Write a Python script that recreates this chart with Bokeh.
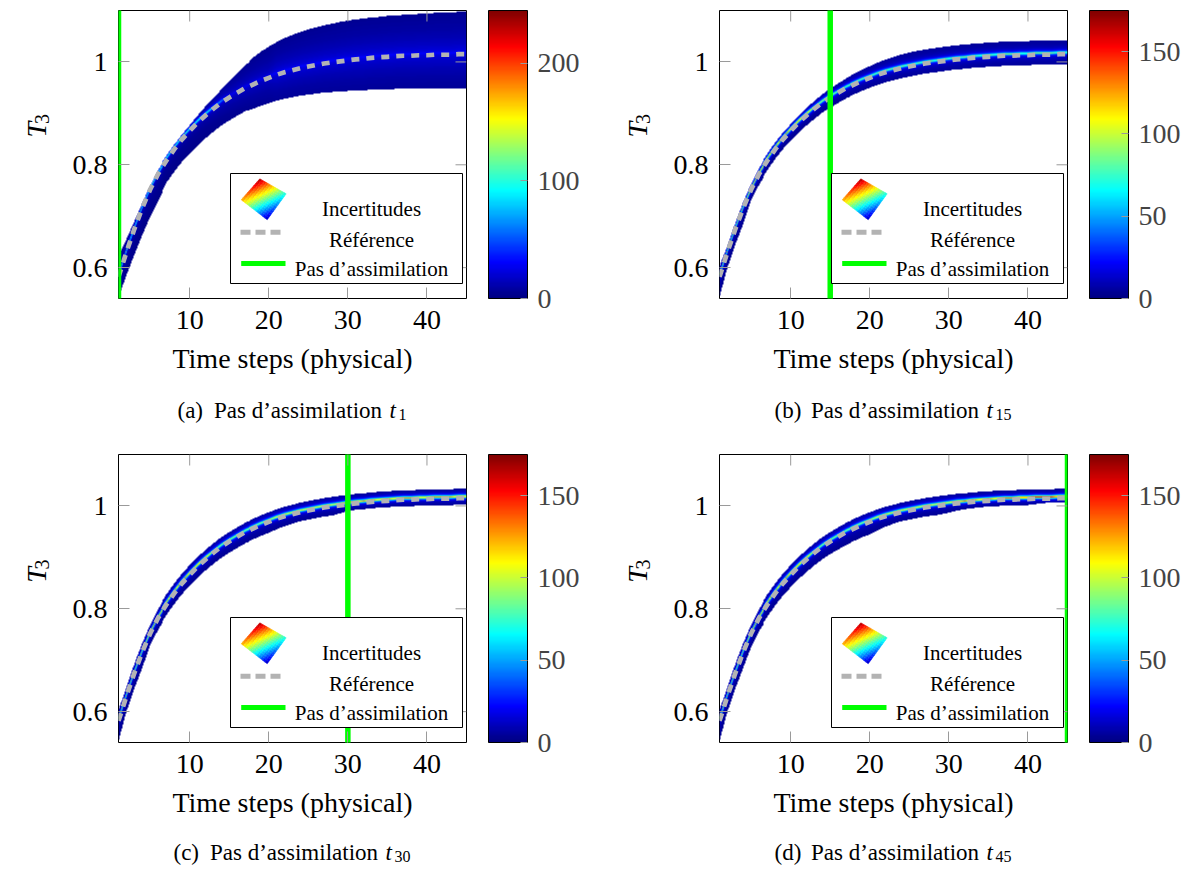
import numpy as np
from bokeh.plotting import figure
from bokeh.models import (Range1d, FixedTicker, ColorBar, LinearColorMapper,
                          Label, CustomJSTickFormatter)
from bokeh.layouts import row, column
from bokeh.core.properties import value
from bokeh.embed import file_html
from bokeh.resources import INLINE

# ---------------- data ----------------
steps = list(range(1, 46))
reference = [0.582, 0.630, 0.675, 0.716, 0.752, 0.782, 0.807, 0.829, 0.849, 0.866,
             0.882, 0.896, 0.909, 0.921, 0.931, 0.940, 0.949, 0.956, 0.963, 0.969,
             0.975, 0.980, 0.984, 0.988, 0.991, 0.994, 0.997, 0.999, 1.001, 1.003,
             1.005, 1.006, 1.008, 1.009, 1.010, 1.011, 1.012, 1.012, 1.013, 1.013,
             1.014, 1.014, 1.014, 1.015, 1.015]

upper_a = [0.622, 0.655, 0.690, 0.726, 0.760, 0.790, 0.815, 0.837, 0.857, 0.876,
           0.895, 0.913, 0.930, 0.946, 0.962, 0.978, 0.993, 1.007, 1.019, 1.029,
           1.038, 1.046, 1.052, 1.058, 1.063, 1.067, 1.071, 1.074, 1.077, 1.080,
           1.082, 1.084, 1.086, 1.087, 1.089, 1.090, 1.091, 1.092, 1.093, 1.093,
           1.095, 1.095, 1.095, 1.097, 1.097]
lower_a = [0.542, 0.585, 0.625, 0.664, 0.700, 0.730, 0.762, 0.784, 0.804, 0.821,
           0.837, 0.851, 0.864, 0.876, 0.886, 0.895, 0.904, 0.908, 0.914, 0.919,
           0.924, 0.928, 0.931, 0.934, 0.936, 0.938, 0.940, 0.941, 0.942, 0.943,
           0.944, 0.944, 0.946, 0.946, 0.946, 0.947, 0.947, 0.947, 0.947, 0.947,
           0.947, 0.947, 0.947, 0.947, 0.947]

upper_b = [0.602, 0.642, 0.687, 0.728, 0.764, 0.794, 0.819, 0.841, 0.861, 0.878,
           0.895, 0.910, 0.924, 0.937, 0.948, 0.958, 0.968, 0.976, 0.984, 0.991,
           0.998, 1.004, 1.009, 1.014, 1.018, 1.021, 1.024, 1.026, 1.028, 1.030,
           1.032, 1.033, 1.035, 1.036, 1.037, 1.038, 1.039, 1.039, 1.040, 1.040,
           1.041, 1.041, 1.041, 1.042, 1.042]
lower_b = [0.542, 0.600, 0.645, 0.686, 0.732, 0.762, 0.787, 0.809, 0.829, 0.846,
           0.862, 0.876, 0.889, 0.901, 0.911, 0.920, 0.929, 0.936, 0.943, 0.949,
           0.955, 0.960, 0.964, 0.968, 0.971, 0.974, 0.977, 0.979, 0.981, 0.983,
           0.985, 0.986, 0.988, 0.989, 0.990, 0.991, 0.992, 0.992, 0.993, 0.993,
           0.994, 0.994, 0.994, 0.995, 0.995]

upper_c = [0.602, 0.648, 0.693, 0.734, 0.770, 0.800, 0.825, 0.847, 0.867, 0.884,
           0.900, 0.914, 0.927, 0.939, 0.949, 0.958, 0.967, 0.974, 0.981, 0.987,
           0.993, 0.998, 1.002, 1.006, 1.009, 1.012, 1.015, 1.017, 1.019, 1.021,
           1.023, 1.024, 1.026, 1.027, 1.028, 1.029, 1.030, 1.030, 1.031, 1.031,
           1.032, 1.032, 1.032, 1.033, 1.033]
lower_c = [0.542, 0.600, 0.645, 0.686, 0.730, 0.760, 0.785, 0.807, 0.827, 0.844,
           0.860, 0.874, 0.887, 0.899, 0.909, 0.918, 0.927, 0.934, 0.941, 0.947,
           0.954, 0.960, 0.965, 0.970, 0.973, 0.976, 0.979, 0.981, 0.985, 0.989,
           0.992, 0.993, 0.995, 0.996, 0.997, 0.998, 0.999, 0.999, 1.000, 1.000,
           1.001, 1.001, 1.001, 1.002, 1.002]

upper_d = [0.602, 0.648, 0.693, 0.734, 0.770, 0.800, 0.825, 0.847, 0.867, 0.884,
           0.900, 0.914, 0.927, 0.939, 0.949, 0.958, 0.967, 0.974, 0.981, 0.987,
           0.993, 0.998, 1.002, 1.006, 1.009, 1.012, 1.015, 1.017, 1.019, 1.021,
           1.023, 1.024, 1.026, 1.027, 1.028, 1.029, 1.030, 1.030, 1.031, 1.031,
           1.032, 1.032, 1.032, 1.033, 1.033]
lower_d = [0.542, 0.600, 0.645, 0.686, 0.727, 0.757, 0.782, 0.804, 0.824, 0.841,
           0.857, 0.871, 0.884, 0.896, 0.906, 0.915, 0.924, 0.931, 0.938, 0.944,
           0.952, 0.959, 0.965, 0.970, 0.973, 0.976, 0.979, 0.981, 0.983, 0.986,
           0.990, 0.993, 0.995, 0.997, 0.998, 0.999, 1.000, 1.000, 1.001, 1.001,
           1.003, 1.005, 1.006, 1.007, 1.007]

# density of ensemble members: sharp core and broad glow (counts)
core_a = [110] * 3 + [100] * 9 + [70, 50] + [8] * 31
glow_a = [15] * 12 + [18] * 8 + [22] * 25
core_b = [100] * 4 + [130] * 8 + [90] * 3 + [75] * 30
glow_b = [16] * 45
core_c = [100] * 4 + [130] * 8 + [85] * 8 + [105] * 9 + [120] * 16
glow_c = [16] * 45
core_d = [100] * 4 + [130] * 8 + [85] * 8 + [105] * 10 + [125] * 8 + [145] * 7
glow_d = [16] * 45

assim_steps = [1, 15, 30, 45]
cbar_max = [245, 175, 175, 175]
cbar_ticks = [[0, 100, 200], [0, 50, 100, 150], [0, 50, 100, 150], [0, 50, 100, 150]]
x_ticks = [10, 20, 30, 40]
y_ticks = [0.6, 0.8, 1.0]
cap_letters = ["(a)", "(b)", "(c)", "(d)"]
cap_subs = ["1", "15", "30", "45"]
legend_labels = ["Incertitudes", "Référence", "Pas d’assimilation"]
x_label = "Time steps (physical)"
y_label = ("T", "3")

uppers = [upper_a, upper_b, upper_c, upper_d]
lowers = [lower_a, lower_b, lower_c, lower_d]
cores = [core_a, core_b, core_c, core_d]
glows = [glow_a, glow_b, glow_c, glow_d]

# ---------------- styling ----------------
FONT = "Liberation Serif"
XMIN, XMAX, YMIN, YMAX = 1, 45, 0.54, 1.10
FW, FH = 348, 288
XS = FW / (XMAX - XMIN)
YS = FH / (YMAX - YMIN)
GREEN = "#00ff00"
GREY = "#b3b3b3"
TICK = "#9a9a9a"
YLAB_W = 60          # width of the y-label strip
MAIN_L = 58          # left border of the main figure (tick labels)
MAIN_B = 85          # bottom border of the main figure


def jet(x):
    x = np.asarray(x, dtype=float)
    r = np.clip(np.minimum(4 * x - 1.5, -4 * x + 4.5), 0, 1)
    g = np.clip(np.minimum(4 * x - 0.5, -4 * x + 3.5), 0, 1)
    b = np.clip(np.minimum(4 * x + 0.5, -4 * x + 2.5), 0, 1)
    return r, g, b


def hexcol(x):
    r, g, b = jet(x)
    return "#%02x%02x%02x" % (int(round(float(r) * 255)), int(round(float(g) * 255)),
                              int(round(float(b) * 255)))


JET = [hexcol(v) for v in np.linspace(0, 1, 256)]


def P(dx, dy):
    """offset in px from the frame's top-left corner -> data coordinates"""
    return XMIN + dx / XS, YMAX - dy / YS


def blank_fig(w, h):
    f = figure(width=w, height=h, x_range=Range1d(0, w), y_range=Range1d(0, h),
               output_backend="svg", toolbar_location=None,
               min_border=0, min_border_left=0, min_border_right=0,
               min_border_top=0, min_border_bottom=0)
    f.axis.visible = False
    f.grid.visible = False
    f.outline_line_color = None
    f.background_fill_color = "white"
    f.border_fill_color = "white"
    return f


def make_main(k, right_border, top_border):
    p = figure(frame_width=FW, frame_height=FH,
               x_range=Range1d(XMIN, XMAX), y_range=Range1d(YMIN, YMAX),
               output_backend="svg", toolbar_location=None,
               min_border_left=MAIN_L, min_border_right=right_border,
               min_border_top=top_border, min_border_bottom=MAIN_B)
    p.grid.visible = False
    p.outline_line_color = "black"
    p.outline_line_width = 1
    p.background_fill_color = "white"
    p.border_fill_color = "white"

    mapper = LinearColorMapper(palette=JET, low=0, high=cbar_max[k],
                               nan_color=(0, 0, 0, 0))

    # density surface, shaded between the time steps (interp shading)
    ny, ncol = 576, 352
    yc = YMIN + (np.arange(ny) + 0.5) * (YMAX - YMIN) / ny
    tx = XMIN + (np.arange(ncol) + 0.5) * (XMAX - XMIN) / ncol
    lo = np.interp(tx, steps, lowers[k])[None, :]
    hi = np.interp(tx, steps, uppers[k])[None, :]
    c = np.interp(tx, steps, reference)[None, :] + 0.003
    co = np.interp(tx, steps, cores[k])[None, :]
    gl = np.interp(tx, steps, glows[k])[None, :]
    Y = yc[:, None]
    d = (co * np.exp(-np.abs(Y - c) / 0.0025)
         + gl * np.exp(-np.abs(Y - c) / (0.28 * (hi - lo))) + 2)
    img = np.where((Y >= lo) & (Y <= hi), d, np.nan)
    p.image(image=[img], x=XMIN, y=YMIN, dw=XMAX - XMIN, dh=YMAX - YMIN,
            color_mapper=mapper)

    # reference
    p.line(steps, reference, line_color=GREY, line_width=4.7, line_dash="8 7",
           line_cap="butt")
    # assimilation step
    a = assim_steps[k]
    p.segment(x0=[a], y0=[YMIN - 1], x1=[a], y1=[YMAX + 1], line_color=GREEN,
              line_width=5.5)

    # mirrored ticks on top and right edges
    p.segment(x0=x_ticks, y0=[YMAX] * len(x_ticks), x1=x_ticks,
              y1=[YMAX - 11 / YS] * len(x_ticks), line_color=TICK, line_width=1)
    p.segment(x0=[XMAX] * len(y_ticks), y0=y_ticks, x1=[XMAX - 11 / XS] * len(y_ticks),
              y1=y_ticks, line_color=TICK, line_width=1)

    # axes
    ax = p.xaxis[0]
    ax.ticker = FixedTicker(ticks=x_ticks)
    ay = p.yaxis[0]
    ay.ticker = FixedTicker(ticks=y_ticks)
    ay.formatter = CustomJSTickFormatter(code="return String(Math.round(tick*10)/10);")
    for axis in (ax, ay):
        axis.axis_line_color = None
        axis.major_tick_in = 11
        axis.major_tick_out = 0
        axis.major_tick_line_color = TICK
        axis.minor_tick_line_color = None
        axis.major_label_text_font = FONT
        axis.major_label_text_font_size = "28px"
        axis.major_label_text_color = "black"
    ax.major_label_standoff = 12
    ay.major_label_standoff = 11
    ax.axis_label = x_label
    ax.axis_label_text_font = FONT
    ax.axis_label_text_font_size = "28px"
    ax.axis_label_text_font_style = "normal"
    ax.axis_label_text_color = "black"
    ax.axis_label_standoff = 11

    cb = ColorBar(color_mapper=mapper, ticker=FixedTicker(ticks=cbar_ticks[k]),
                  width=39, margin=0, padding=0, location=(22, 0),
                  major_label_text_font=FONT, major_label_text_font_size="28px",
                  label_standoff=10, major_tick_in=7, major_tick_out=0,
                  major_tick_line_color=TICK, minor_tick_line_color=None,
                  bar_line_color="black", bar_line_width=1,
                  border_line_color=None, background_fill_color=None)
    p.add_layout(cb, "right")

    # legend box
    l, t_ = P(112, 163)
    r, b = P(344, 273)
    p.quad(left=[l], right=[r], top=[t_], bottom=[b], fill_color="white",
           line_color="black", line_width=1)
    # surface icon
    L = np.array([122.7, 189.3]); T = np.array([141.3, 168.3])
    R = np.array([167.7, 183.3]); B = np.array([148.7, 209.3])
    vL, vT, vR, vB = 0.72, 0.97, 0.40, 0.04
    n = 12
    xs, ys, cols = [], [], []
    for iu in range(n):
        for iv in range(n):
            quad = []
            for (u, v) in [(iu / n, iv / n), ((iu + 1) / n, iv / n),
                           ((iu + 1) / n, (iv + 1) / n), (iu / n, (iv + 1) / n)]:
                pt = L + u * (T - L) + v * (B - L) + u * v * (R - T - B + L)
                quad.append(P(pt[0], pt[1]))
            xs.append([q[0] for q in quad]); ys.append([q[1] for q in quad])
            u, v = (iu + 0.5) / n, (iv + 0.5) / n
            val = vL * (1 - u) * (1 - v) + vT * u * (1 - v) + vB * (1 - u) * v + vR * u * v
            cols.append(hexcol(val))
    p.patches(xs, ys, fill_color=cols, line_color=cols, line_width=0.5)
    # dashed icon
    x0, y0 = P(122, 221.7); x1, _ = P(162.7, 221.7)
    p.line([x0, x1], [y0, y0], line_color=GREY, line_width=5, line_dash="10 5",
           line_cap="butt")
    # green icon
    x0, y0 = P(122.7, 253); x1, _ = P(167, 253)
    p.line([x0, x1], [y0, y0], line_color=GREEN, line_width=5)
    for txt, yy in zip(legend_labels, [198.3, 229, 258.3]):
        lx, ly = P(253, yy)
        p.add_layout(Label(x=lx, y=ly, text=txt, text_font=FONT, text_font_size="21px",
                           text_align="center", text_baseline="alphabetic",
                           text_color="black"))
    return p


def make_ylab(h, top_border):
    f = blank_fig(YLAB_W, h)
    f.text(x=[36], y=[h - top_border - 159], text=[y_label[0]], angle=np.pi / 2,
           text_font=value(FONT), text_font_size="28px", text_font_style="italic",
           text_align="left", text_baseline="alphabetic", text_color="black")
    f.text(x=[41], y=[h - top_border - 141], text=[y_label[1]], angle=np.pi / 2,
           text_font=value(FONT), text_font_size="20px",
           text_align="left", text_baseline="alphabetic", text_color="black")
    return f


def make_caption(k, w, h, base_from_bottom):
    f = blank_fig(w, h)
    sh = 0 if len(cap_subs[k]) == 1 else -4
    for txt, dx, size, style, dy in [(cap_letters[k], 177, "23px", "normal", 0),
                                     ("Pas d’assimilation", 213.5, "23px", "normal", 0),
                                     ("t", 389, "23px", "italic", 0),
                                     (cap_subs[k], 398, "16px", "normal", 4)]:
        f.text(x=[dx + sh], y=[base_from_bottom - dy], text=[txt],
               text_font=value(FONT), text_font_size=size, text_font_style=style,
               text_align="left", text_baseline="alphabetic", text_color="black")
    return f


def block(k, right_border, top_border, cap_h, cap_base):
    main = make_main(k, right_border, top_border)
    h = top_border + FH + MAIN_B
    w = YLAB_W + MAIN_L + FW + right_border
    ylab = make_ylab(h, top_border)
    cap = make_caption(k, w, cap_h, cap_base)
    return column(row(ylab, main, spacing=0), cap, spacing=0)


# top row: frames at y = 10 ; bottom row: frames at y = 454
ba = block(0, 135, 10, 441 - (10 + FH + MAIN_B), 31)
bb = block(1, 125, 10, 441 - (10 + FH + MAIN_B), 31)
bc = block(2, 135, 13, 866 - 441 - (13 + FH + MAIN_B), 14)
bd = block(3, 125, 13, 866 - 441 - (13 + FH + MAIN_B), 14)

layout = column(row(ba, bb, spacing=0), row(bc, bd, spacing=0), spacing=0)
open("out.html", "w").write(file_html(layout, INLINE))
